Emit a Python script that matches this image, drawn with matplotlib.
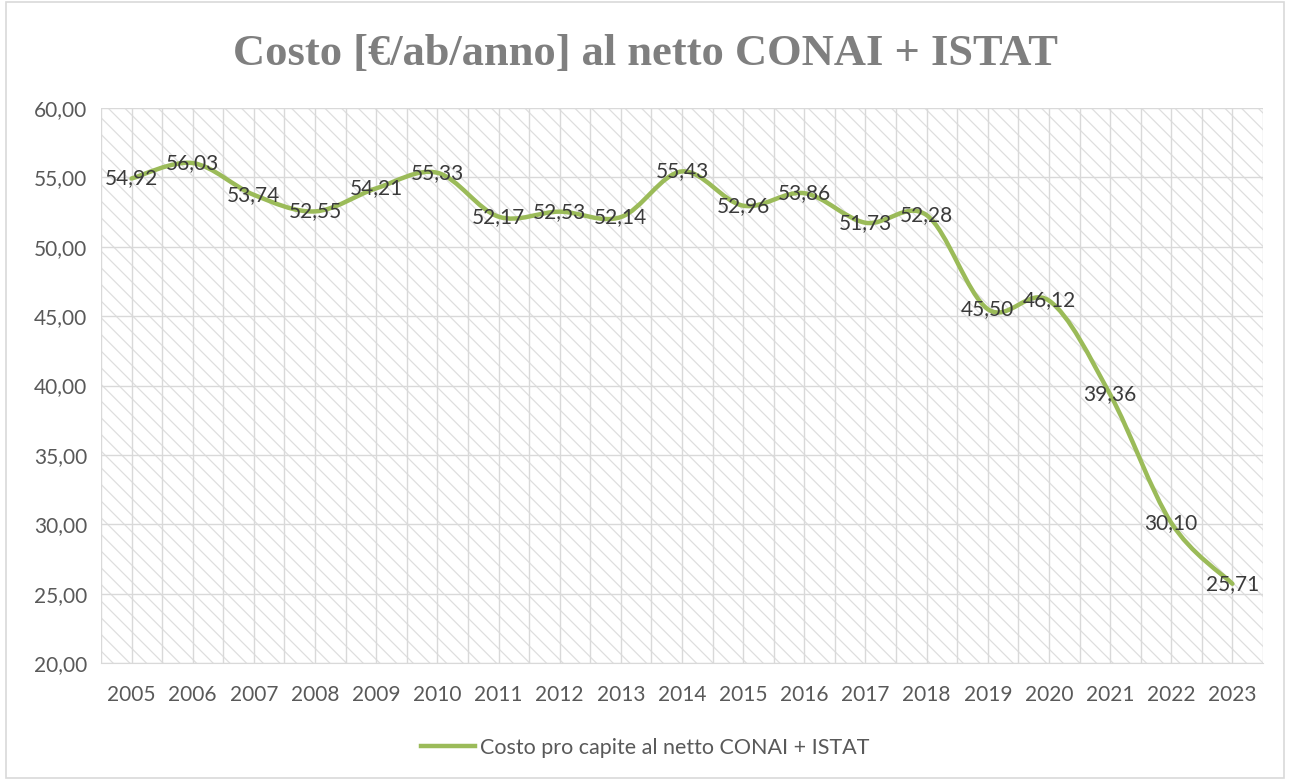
import matplotlib.pyplot as plt
import numpy as np
from matplotlib.path import Path
from matplotlib.patches import PathPatch, Rectangle
from matplotlib.lines import Line2D

years = ['2005', '2006', '2007', '2008', '2009', '2010', '2011', '2012', '2013', '2014',
         '2015', '2016', '2017', '2018', '2019', '2020', '2021', '2022', '2023']
costo = [54.92, 56.03, 53.74, 52.55, 54.21, 55.33, 52.17, 52.53, 52.14, 55.43,
         52.96, 53.86, 51.73, 52.28, 45.50, 46.12, 39.36, 30.10, 25.71]
titolo = 'Costo [€/ab/anno] al netto CONAI + ISTAT'
serie = 'Costo pro capite al netto CONAI + ISTAT'

plt.rcParams['font.family'] = ['Lato', 'DejaVu Sans']
plt.rcParams['hatch.linewidth'] = 0.9
green = '#9bbb59'
grid_c = '#d9d9d9'

fig = plt.figure(figsize=(12.9, 7.8), dpi=100)
ax = fig.add_axes([101/1290, 1 - 663/780, (1263-101)/1290, (663-108)/780])

x = np.arange(len(years))
y = np.array(costo)

# smoothed line (Bezier through the points, like Excel's smooth line)
pts = np.column_stack([x, y])
ext = np.vstack([pts[0], pts, pts[-1]])
verts = [tuple(pts[0])]
codes = [Path.MOVETO]
for i in range(len(pts) - 1):
    p0, p1, p2, p3 = ext[i], ext[i+1], ext[i+2], ext[i+3]
    c1 = p1 + (p2 - p0) / 6
    c2 = p2 - (p3 - p1) / 6
    verts += [tuple(c1), tuple(c2), tuple(p2)]
    codes += [Path.CURVE4] * 3
ax.add_patch(PathPatch(Path(verts, codes), fill=False, edgecolor=green, lw=3.2,
                       capstyle='round', joinstyle='round', zorder=3))

for xi, yi in zip(x, y):
    ax.text(xi, yi, f'{yi:.2f}'.replace('.', ','), ha='center', va='center',
            fontsize=15, color='#3a3a3a', zorder=4)

# hatched plot background
ax.add_patch(Rectangle((0, 0), 1, 1, transform=ax.transAxes, fill=False, hatch='\\\\',
                       edgecolor='#dedede', lw=0, zorder=0))

ax.set_xlim(-0.5, len(years) - 0.5)
ax.set_ylim(20, 60)
ax.set_xticks(x)
ax.set_xticklabels(years)
ax.set_xticks(np.arange(-0.5, len(years), 0.5), minor=True)
ax.set_yticks(np.arange(20, 61, 5))
ax.set_yticklabels([f'{v:.2f}'.replace('.', ',') for v in np.arange(20, 61, 5)])
ax.grid(True, which='major', color=grid_c, lw=1, zorder=1)
ax.grid(True, which='minor', axis='x', color=grid_c, lw=1, zorder=1)
ax.set_axisbelow(True)
ax.tick_params(which='both', length=0, labelsize=15, labelcolor='#595959')
ax.tick_params(axis='x', pad=16)
ax.tick_params(axis='y', pad=10)
for s in ['top', 'right', 'left']:
    ax.spines[s].set_visible(False)
ax.spines['bottom'].set_color(grid_c)

fig.text(0.5, 1 - 54/780, titolo, ha='center', va='center', fontsize=32, fontweight='bold',
         color='#7f7f7f', family=['Liberation Serif', 'DejaVu Serif'])

handle = Line2D([], [], color=green, lw=3.2)
fig.legend([handle], [serie], loc='center', bbox_to_anchor=(0.5, 1 - 748/780), frameon=False,
           fontsize=15.5, labelcolor='#595959', handlelength=2.5, handletextpad=0.25)

fig.patches.append(Rectangle((6/1290, 0.002), 1 - 12/1290, 0.996, transform=fig.transFigure,
                             fill=False, edgecolor='#d9d9d9', lw=1.2))

fig.savefig('out.png', dpi=100)
